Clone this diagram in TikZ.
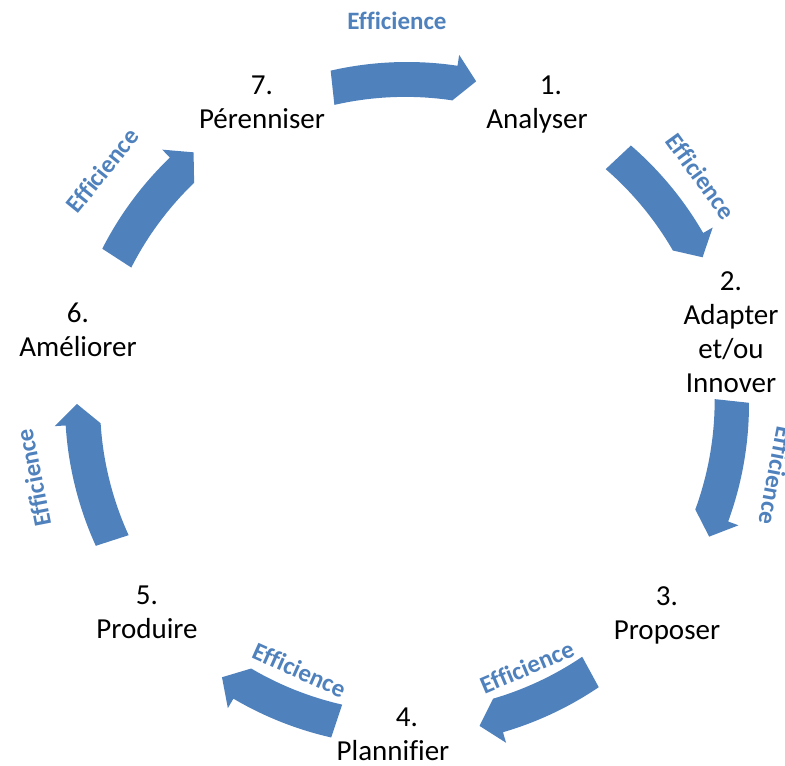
\documentclass[tikz,border=0pt]{standalone}
\usepackage{fontspec}
\setmainfont{Carlito}[Ligatures=CommonOff]
\usetikzlibrary{calc}
\definecolor{officeblue}{RGB}{79,129,189}

\begin{document}
\begin{tikzpicture}[x=1pt,y=1pt,
  stepnode/.style={align=center,anchor=north,inner sep=0pt,font=\fontsize{29}{34}\selectfont},
  efflabel/.style={text=officeblue,inner sep=0pt,font=\bfseries\fontsize{25}{30}\selectfont}]
\clip (0,0) rectangle (785,766);
\coordinate (c) at (407,362);
% steps of the cycle
\node[stepnode] (n1) at (537,690) {\hspace*{28pt}1.\\Analyser};
\node[stepnode] (n2) at (731,495) {2.\\Adapter\\et/ou\\Innover};
\node[stepnode] (n3) at (667,180) {3.\\Proposer};
\node[stepnode] (n4) at (393,58) {\hspace*{28pt}4.\\Plannifier};
\node[stepnode] (n5) at (147,180) {5.\\Produire};
\node[stepnode] (n6) at (78,463) {6.\\Am\'eliorer};
\node[stepnode] (n7) at (262,690) {7.\\P\'erenniser};
% curved block arrows (start angle / tip angle)
\foreach \sa/\ta in {102.9/77.9, 49.1/26.4, 0.2/-23.7, -55.9/-77.3, -102.8/-124.1, -155.5/-180, 153/130.3}{
  \pgfmathsetmacro{\hd}{\ta+3.6}
  \fill[officeblue,shift={(c)}] (\sa:342pt) arc[start angle=\sa,end angle=\hd,radius=342pt]
    -- (\hd:353pt) -- (\ta:330pt) -- (\hd:307pt)
    arc[start angle=\hd,end angle=\sa,radius=318pt] -- cycle;
}
% labels on the arrows
\node[efflabel] (e71) at ($(c)+(91.5:383pt)$) {Efficience};
\node[efflabel,rotate=-54] (e12) at ($(c)+(37.8:372pt)$) {Efficience};
\node[efflabel,rotate=-101] (e23) at ($(c)+(-11:376pt)$) {Efficience};
\node[efflabel,rotate=23] (e34) at ($(c)+(-65.5:289pt)$) {Efficience};
\node[efflabel,rotate=-24] (e45) at ($(c)+(-112:287pt)$) {Efficience};
\node[efflabel,rotate=101] (e56) at ($(c)+(-168.8:381pt)$) {Efficience};
\node[efflabel,rotate=51] (e67) at ($(c)+(142.5:384pt)$) {Efficience};
\end{tikzpicture}
\end{document}
